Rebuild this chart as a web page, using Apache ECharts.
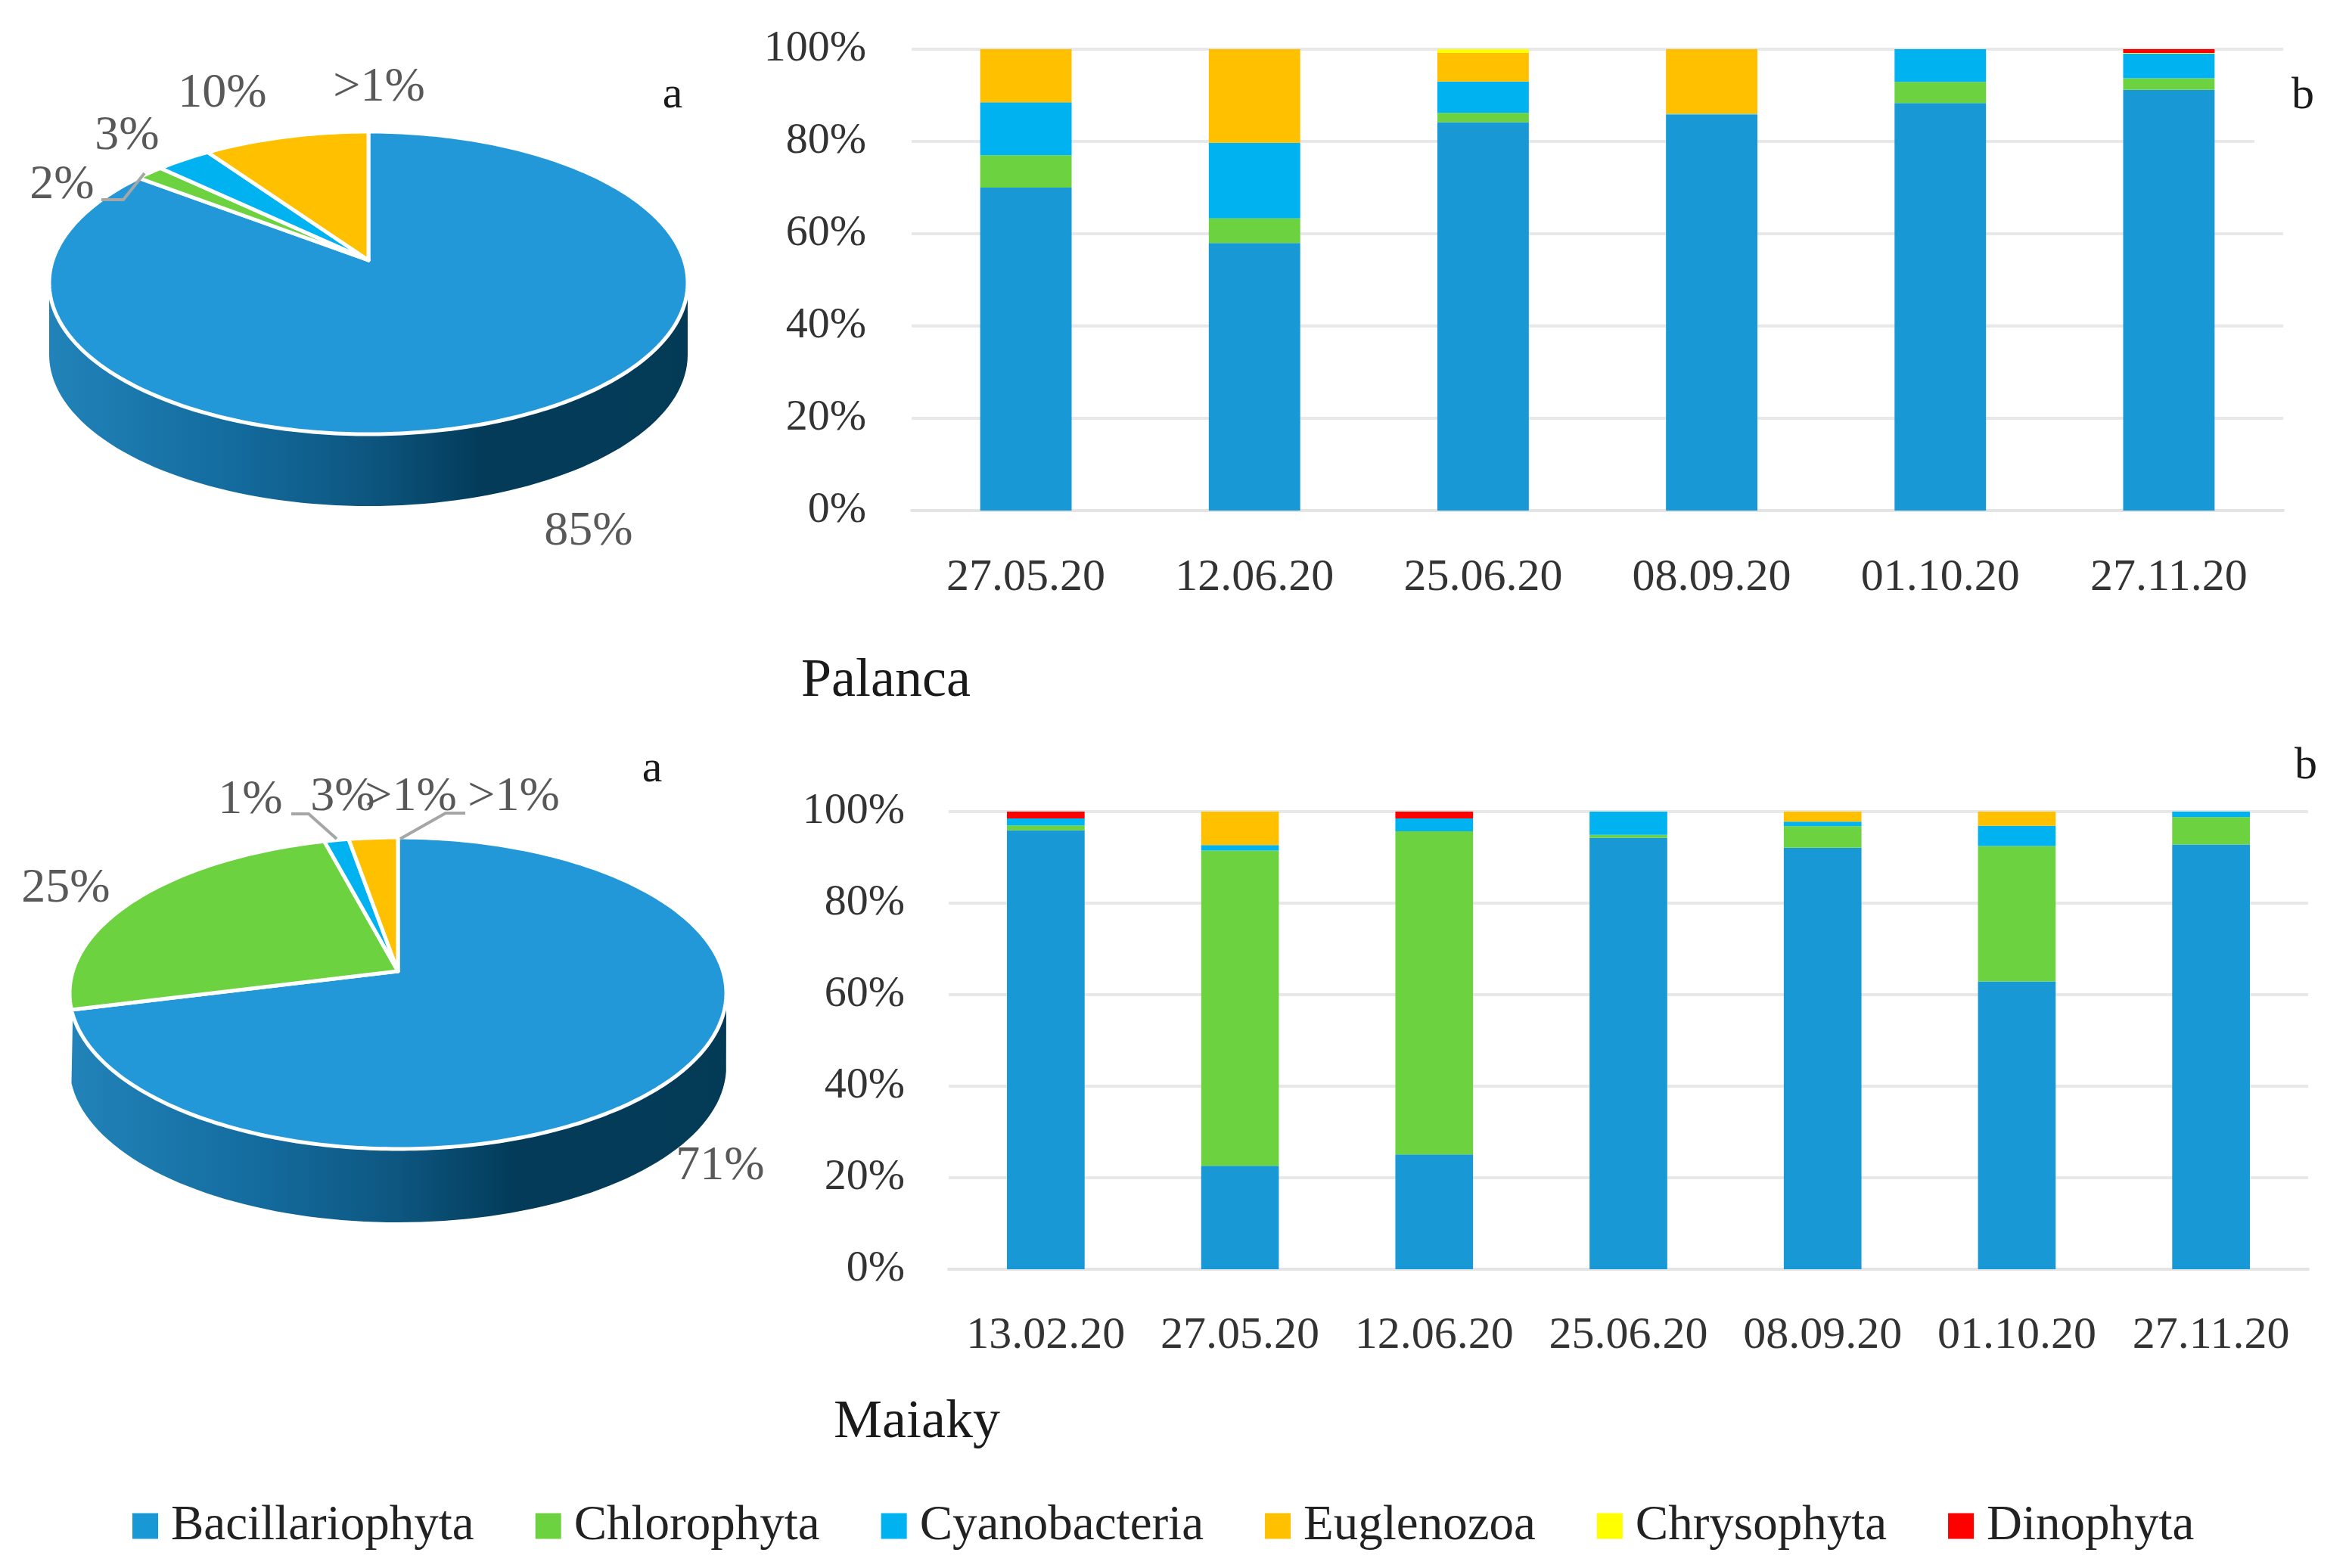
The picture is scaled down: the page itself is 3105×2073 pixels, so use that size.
<!DOCTYPE html>
<html>
<head>
<meta charset="utf-8">
<style>
  html, body { margin: 0; padding: 0; background: #fff; }
  #chart-panel { width: 3105px; height: 2073px; }
</style>
<script src="https://cdn.jsdelivr.net/npm/echarts@6/dist/echarts.min.js"></script>
</head>
<body>
<div id="chart-panel"></div>
<script>
var groups = ['Bacillariophyta', 'Chlorophyta', 'Cyanobacteria', 'Euglenozoa', 'Chrysophyta', 'Dinophyta'];
var groupColors = ['#1899D6', '#6CD23F', '#00B2F0', '#FFC000', '#FFFF00', '#FF0000'];

// bars, percent per sampling date
var palancaDates = ['27.05.20', '12.06.20', '25.06.20', '08.09.20', '01.10.20', '27.11.20'];
var palancaBacillariophyta = [70, 58, 84.2, 85.8, 88.3, 91.2];
var palancaChlorophyta = [7, 5.3, 2, 0, 4.6, 2.5];
var palancaCyanobacteria = [11.5, 16.4, 6.8, 0.2, 7.1, 5.3];
var palancaEuglenozoa = [11.5, 20.3, 6.2, 14, 0, 0.1];
var palancaChrysophyta = [0, 0, 0.8, 0, 0, 0.1];
var palancaDinophyta = [0, 0, 0, 0, 0, 0.8];

var maiakyDates = ['13.02.20', '27.05.20', '12.06.20', '25.06.20', '08.09.20', '01.10.20', '27.11.20'];
var maiakyBacillariophyta = [95.9, 22.6, 25.1, 94.3, 92.1, 62.9, 92.8];
var maiakyChlorophyta = [1.1, 68.9, 70.6, 0.6, 4.7, 29.6, 6];
var maiakyCyanobacteria = [1.5, 1.2, 2.8, 5.1, 1, 4.4, 1.2];
var maiakyEuglenozoa = [0, 7.3, 0, 0, 2.2, 3.1, 0];
var maiakyChrysophyta = [0, 0, 0, 0, 0, 0, 0];
var maiakyDinophyta = [1.5, 0, 1.5, 0, 0, 0, 0];

// pie slices clockwise from the top
var palancaPieValues = [87.2, 1.5, 2.9, 8.4];
var palancaPieColors = ['#2298D9', '#6CD23F', '#00B2F0', '#FFC000'];
var maiakyPieValues = [73.3, 23.1, 1.2, 2.4];
var maiakyPieColors = ['#2298D9', '#6CD23F', '#00B2F0', '#FFC000'];

var serif = '"Liberation Serif", serif';
var wallColor = {
    type: 'linear', x: 0, y: 0, x2: 1, y2: 0,
    colorStops: [
        { offset: 0, color: '#2183B9' },
        { offset: 0.3, color: '#136A9C' },
        { offset: 0.5, color: '#0D5680' },
        { offset: 0.68, color: '#033B59' },
        { offset: 1, color: '#033B57' }
    ]
};

function rimPoint(g, deg, dy) {
    var t = deg * Math.PI / 180;
    return [g.cx + g.rx * Math.sin(t), g.cy - g.ry * Math.cos(t) + (dy || 0)];
}

function piePoints(g, from, to) {
    var pts = [[g.cx, g.cy - g.lift]];
    for (var d = from; d < to; d += 1) pts.push(rimPoint(g, d));
    pts.push(rimPoint(g, to));
    return pts;
}

function wallPoints(g, end) {
    var pts = [], d;
    var stop = Math.min(end, 270);
    for (d = 90; d <= stop; d += 2) pts.push(rimPoint(g, d));
    for (d = stop; d >= 90; d -= 2) pts.push(rimPoint(g, d, g.depth));
    return pts;
}

// flattened 3D pie, the screen geometry is in g, the angles come from the data
function pieSeries(values, colors, g) {
    var total = values.reduce(function (a, b) { return a + b; }, 0);
    return {
        type: 'custom',
        coordinateSystem: 'none',
        silent: true,
        data: values.map(function (v) { return [v]; }),
        renderItem: function (params, api) {
            var i = params.dataIndex;
            var sum = 0;
            for (var k = 0; k < i; k++) sum += values[k];
            var from = sum / total * 360;
            var to = (sum + api.value(0)) / total * 360;
            var children = [];
            if (i === 0) {
                children.push({
                    type: 'polygon',
                    shape: { points: wallPoints(g, to) },
                    style: { fill: wallColor }
                });
            }
            children.push({
                type: 'polygon',
                shape: { points: piePoints(g, from, to) },
                style: { fill: colors[i], stroke: '#fff', lineWidth: 5, lineJoin: 'round' }
            });
            return { type: 'group', children: children };
        }
    };
}

function barSeries(lists, gridIndex, stack) {
    return groups.map(function (name, i) {
        return {
            name: name,
            type: 'bar',
            stack: stack,
            xAxisIndex: gridIndex,
            yAxisIndex: gridIndex,
            barWidth: '40%',
            itemStyle: { color: groupColors[i] },
            data: lists[i]
        };
    });
}

function text(str, x, y, size, color, align) {
    return {
        type: 'text', z: 20,
        style: {
            text: str, x: x, y: y, fill: color,
            font: size + 'px ' + serif,
            align: align || 'center', verticalAlign: 'middle'
        }
    };
}

function leader(points) {
    return {
        type: 'polyline', z: 20,
        shape: { points: points },
        style: { stroke: '#A6A6A6', lineWidth: 4, fill: null }
    };
}

var grey = '#595959';
var black = '#1a1a1a';

var myChart = echarts.init(document.getElementById('chart-panel'));
myChart.setOption({
    animation: false,
    backgroundColor: '#fff',
    textStyle: { fontFamily: serif },
    grid: [
        { left: 1205, top: 65, width: 1813, height: 610 },
        { left: 1254, top: 1073, width: 1797, height: 605 }
    ],
    xAxis: [palancaDates, maiakyDates].map(function (dates, i) {
        return {
            type: 'category',
            gridIndex: i,
            data: dates,
            axisTick: { show: false },
            axisLine: { lineStyle: { color: '#E4E4E4', width: 4 } },
            axisLabel: { color: '#333', fontSize: 60, fontFamily: serif, margin: i ? 58 : 59, interval: 0 }
        };
    }),
    yAxis: [0, 1].map(function (i) {
        return {
            type: 'value',
            gridIndex: i,
            min: 0,
            max: 100,
            interval: 20,
            axisLine: { show: false },
            axisTick: { show: false },
            splitLine: { lineStyle: { color: '#E8E8E8', width: 4 } },
            axisLabel: { color: '#333', fontSize: 58, fontFamily: serif, margin: i ? 58 : 60, formatter: '{value}%' }
        };
    }),
    legend: {
        data: groups,
        left: 170,
        top: 1980,
        icon: 'rect',
        itemWidth: 34,
        itemHeight: 34,
        itemGap: 81,
        selectedMode: false,
        textStyle: { color: '#222', fontSize: 65, fontFamily: serif, padding: [0, 0, 0, 12] }
    },
    graphic: { elements: [
        { type: 'rect', z: 19, shape: { x: 2980, y: 180, width: 45, height: 14 }, style: { fill: '#fff' } },

        text('>1%', 501, 116, 64, grey),
        text('10%', 294, 124, 64, grey),
        text('3%', 168, 180, 64, grey),
        text('2%', 82, 245, 64, grey),
        text('85%', 778, 703, 64, grey),
        text('a', 889, 126, 60, black),
        text('b', 3044, 127, 60, black),
        text('Palanca', 1059, 901, 72, black, 'left'),
        leader([[191, 229], [163, 264], [134, 264]]),

        text('1%', 331, 1058, 64, grey),
        text('3%', 453, 1054, 64, grey),
        text('>1%', 543, 1054, 64, grey),
        text('>1%', 679, 1054, 64, grey),
        text('25%', 87, 1175, 64, grey),
        text('71%', 952, 1542, 64, grey),
        text('a', 862, 1017, 60, black),
        text('b', 3048, 1013, 60, black),
        text('Maiaky', 1102, 1881, 72, black, 'left'),
        leader([[385, 1076], [408, 1076], [445, 1109]]),
        leader([[615, 1075], [589, 1075], [529, 1109]])
    ] },
    series: [].concat(
        barSeries([palancaBacillariophyta, palancaChlorophyta, palancaCyanobacteria, palancaEuglenozoa, palancaChrysophyta, palancaDinophyta], 0, 'palanca'),
        barSeries([maiakyBacillariophyta, maiakyChlorophyta, maiakyCyanobacteria, maiakyEuglenozoa, maiakyChrysophyta, maiakyDinophyta], 1, 'maiaky'),
        pieSeries(palancaPieValues, palancaPieColors, { cx: 487, cy: 374, rx: 422, ry: 200, lift: 30, depth: 95 }),
        pieSeries(maiakyPieValues, maiakyPieColors, { cx: 526, cy: 1313, rx: 434, ry: 206, lift: 29, depth: 97 })
    )
});
</script>
</body>
</html>
